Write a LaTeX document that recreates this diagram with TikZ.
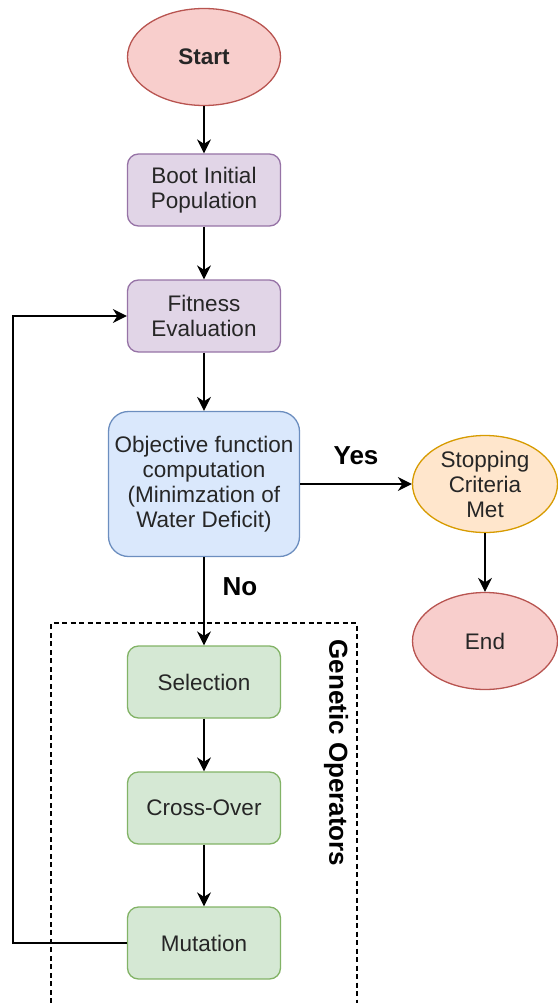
\documentclass[tikz,border=0pt]{standalone}
\usepackage{fontspec}
\setmainfont{Liberation Sans}
\usetikzlibrary{arrows.meta,shapes.geometric}

% Flowchart colours
\definecolor{redfill}{HTML}{F8CECC}\definecolor{redline}{HTML}{B85450}
\definecolor{purfill}{HTML}{E1D5E7}\definecolor{purline}{HTML}{9673A6}
\definecolor{bluefill}{HTML}{DAE8FC}\definecolor{blueline}{HTML}{6C8EBF}
\definecolor{orgfill}{HTML}{FFE6CC}\definecolor{orgline}{HTML}{D79B00}
\definecolor{grnfill}{HTML}{D5E8D4}\definecolor{grnline}{HTML}{82B366}
\definecolor{txt}{HTML}{262626}

\tikzset{
  base/.style={line width=1.3pt, text=txt, align=center, inner sep=0pt,
    font=\fontsize{22.5}{25}\selectfont},
  terminal/.style={base, ellipse, minimum width=153pt, minimum height=97pt},
  stepbox/.style={base, rectangle, rounded corners=11pt,
    minimum width=153pt, minimum height=72pt},
  flow/.style={line width=1.4pt, draw=black,
    -{Stealth[length=14pt,width=14pt,inset=4.5pt]}},
  lbl/.style={text=black, font=\fontsize{26}{30}\selectfont\bfseries, inner sep=0pt},
}

\begin{document}
\begin{tikzpicture}[x=1pt,y=-1pt]
  \useasboundingbox (0,0) rectangle (557,1003);

  % group frame around the genetic operators (runs off the lower edge)
  \draw[line width=1.1pt, dash pattern=on 5pt off 3.5pt]
    (51,1003) -- (51,623) -- (357,623) -- (357,1003);
  \node[lbl, rotate=-90] (grp) at (336,753) {Genetic Operators};

  % main column
  \node[terminal, fill=redfill, draw=redline, font=\fontsize{22.5}{25}\selectfont\bfseries]
    (start) at (204,57) {Start};
  \node[stepbox, fill=purfill, draw=purline] (boot) at (204,190) {Boot Initial\\Population};
  \node[stepbox, fill=purfill, draw=purline] (fit) at (204,316) {Fitness\\Evaluation};
  \node[stepbox, fill=bluefill, draw=blueline, rounded corners=20pt,
        minimum width=191pt, minimum height=145pt]
    (obj) at (204,484) {Objective function\\computation\\(Minimzation of\\Water Deficit)};
  \node[stepbox, fill=grnfill, draw=grnline] (sel) at (204,682) {Selection};
  \node[stepbox, fill=grnfill, draw=grnline] (cross) at (204,808) {Cross-Over};
  \node[stepbox, fill=grnfill, draw=grnline] (mut) at (204,943) {Mutation};

  % right branch
  \node[terminal, fill=orgfill, draw=orgline, minimum width=145pt]
    (stop) at (485,484) {Stopping\\Criteria\\Met};
  \node[terminal, fill=redfill, draw=redline, minimum width=145pt]
    (end) at (485,641) {End};

  % connectors
  \draw[flow] (start) -- (boot);
  \draw[flow] (boot) -- (fit);
  \draw[flow] (fit) -- (obj);
  \draw[flow] (obj) -- node[lbl, above=19pt] (yes) {Yes} (stop);
  \draw[flow] (stop) -- (end);
  \draw[flow] (obj) -- node[lbl, right=18pt, pos=0.33] (no) {No} (sel);
  \draw[flow] (sel) -- (cross);
  \draw[flow] (cross) -- (mut);

  % feedback loop back to fitness evaluation
  \coordinate (loopb) at (13,943);
  \coordinate (loopt) at (13,316);
  \draw[flow] (mut.west) -- (loopb) -- (loopt) -- (fit.west);
\end{tikzpicture}
\end{document}
